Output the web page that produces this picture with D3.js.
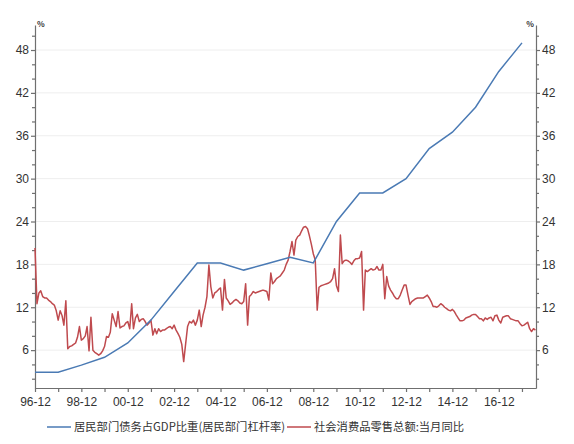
<!DOCTYPE html>
<html>
<head>
<meta charset="utf-8">
<script src="https://cdn.jsdelivr.net/npm/d3@7"></script>
<style>
  body { margin: 0; background: #fff; }
  svg { font-family: "Noto Sans CJK SC", "Noto Sans", sans-serif; }
  .grid line { stroke: #eeeeee; }
  .axis path, .axis line { stroke: #6f6f6f; stroke-width: 1.2; }
  .axis text { fill: #333; font-size: 12px; }
</style>
</head>
<body>
<svg id="chart" width="574" height="444"></svg>
<script>
// 居民部门杠杆率（年末）
const debtYears = [1996, 1997, 1998, 1999, 2000, 2001, 2002, 2003, 2004, 2005, 2006,
  2007, 2008, 2009, 2010, 2011, 2012, 2013, 2014, 2015, 2016, 2017];
const debtValues = [2.9, 2.9, 3.9, 5.0, 7.0, 10.2, 14.2, 18.2, 18.2, 17.2, 18.1,
  19.0, 18.2, 24.0, 28.0, 28.0, 30.0, 34.2, 36.5, 40.0, 45.0, 49.0];

// 社会消费品零售总额：当月同比，从 1996-12 起按月
const retailStart = new Date(1996, 11, 1);
const retailValues = [
  20.3, 12.5, 14.0, 14.3, 13.5, 13.3, 13.3, 13.0, 12.8, 12.5, 12.3, 11.5,
  10.2, 11.5, 10.8, 9.5, 12.9, 6.2, 6.5, 6.6, 6.8, 7.0, 7.8, 9.3,
  7.4, 7.6, 8.0, 9.3, 5.9, 10.6, 6.0, 5.7, 5.5, 5.3, 5.5, 5.9,
  6.5, 7.9, 7.8, 8.5, 11.1, 10.2, 9.3, 11.4, 9.1, 9.3, 9.4, 9.8,
  10.0, 9.0, 12.5, 9.0, 10.5, 11.0, 10.0, 10.3, 10.4, 10.0, 9.5, 9.8,
  10.2, 8.1, 9.0, 8.3, 9.0, 8.6, 8.8, 8.8, 9.0, 9.2, 9.3, 9.0,
  9.5, 8.8, 8.3, 7.8, 6.8, 4.4, 6.9, 9.3, 10.0, 9.8, 10.2, 9.5,
  10.2, 11.6, 9.3, 10.9, 12.0, 13.5, 17.9, 14.9, 13.3, 14.0, 14.2, 14.5,
  14.7, 11.6, 15.9, 13.3, 12.9, 12.4, 12.6, 12.9, 13.1, 12.9, 12.6, 12.5,
  12.8, 15.3, 9.5, 13.5, 13.8, 14.2, 14.0, 14.1, 14.2, 14.3, 14.4, 14.3,
  14.2, 13.0, 16.8, 15.3, 15.6, 16.0, 16.2, 16.4, 16.8, 17.2, 18.0, 18.6,
  19.8, 21.2, 19.3, 21.4, 21.9, 22.1, 22.7, 23.2, 23.3, 23.0, 22.0, 20.8,
  19.5, 18.6, 11.6, 14.8, 15.0, 15.1, 15.2, 15.3, 15.4, 15.6, 16.0, 17.4,
  15.0, 14.2, 22.1, 18.1, 18.5, 18.6, 18.5, 18.3, 18.0, 18.5, 18.8, 18.8,
  18.9, 19.8, 11.6, 17.2, 17.0, 17.2, 17.4, 17.2, 17.3, 17.7, 17.2, 17.2,
  18.0, 13.2, 16.3, 15.0, 14.4, 14.0, 13.5, 13.2, 13.2, 13.7, 14.4, 15.1,
  15.1, 13.7, 12.4, 12.8, 13.0, 13.2, 13.3, 13.3, 13.3, 13.3, 13.5, 13.7,
  13.3, 12.8, 12.1, 12.1, 12.0, 12.2, 12.5, 12.3, 12.0, 11.8, 11.6, 11.5,
  11.7, 11.4, 10.9, 10.5, 10.1, 10.1, 10.2, 10.5, 10.6, 10.7, 10.9, 11.0,
  11.0, 10.7, 10.4, 10.4, 10.1, 10.5, 10.3, 10.5, 10.6, 10.1, 10.8,
  10.9, 10.2, 9.8, 10.6, 10.7, 10.8, 10.8, 10.4, 10.3, 10.2, 10.1, 10.1,
  9.7, 9.4, 9.5, 9.7, 9.9, 9.0, 8.6, 9.0, 8.8
];

const yTicks = [6, 12, 18, 24, 30, 36, 42, 48];
const yMinorTicks = d3.range(2, 52, 2);
const xTickYears = d3.range(1996, 2018);

const legendLabels = ["居民部门债务占GDP比重(居民部门杠杆率)", "社会消费品零售总额:当月同比"];
const BLUE = "#4a7ab4";
const RED = "#bf4a4e";

const margin = { left: 35, right: 38, top: 25, bottom: 56 };
const W = 574, H = 444;
const svg = d3.select("#chart");

const x = d3.scaleTime()
  .domain([retailStart, new Date(2018, 6, 10)])
  .range([margin.left, W - margin.right]);
const y = d3.scaleLinear()
  .domain([0.7, 51.5])
  .range([H - margin.bottom, margin.top]);

// 网格线
svg.append("g").attr("class", "grid")
  .selectAll("line").data(yTicks).enter().append("line")
  .attr("x1", margin.left).attr("x2", W - margin.right)
  .attr("y1", d => y(d)).attr("y2", d => y(d));

// 次刻度
const yMinor = yMinorTicks.filter(d => d % 6 !== 0);
svg.append("g").attr("class", "axis")
  .attr("transform", `translate(${margin.left},0)`)
  .call(d3.axisLeft(y).tickValues(yMinor).tickSize(3).tickFormat(""))
  .call(g => g.select(".domain").remove());
svg.append("g").attr("class", "axis")
  .attr("transform", `translate(${W - margin.right},0)`)
  .call(d3.axisRight(y).tickValues(yMinor).tickSize(3).tickFormat(""))
  .call(g => g.select(".domain").remove());

// 左右轴
svg.append("g").attr("class", "axis")
  .attr("transform", `translate(${margin.left},0)`)
  .call(d3.axisLeft(y).tickValues(yTicks).tickSize(4).tickSizeOuter(0).tickPadding(2));
svg.append("g").attr("class", "axis")
  .attr("transform", `translate(${W - margin.right},0)`)
  .call(d3.axisRight(y).tickValues(yTicks).tickSize(4).tickSizeOuter(0).tickPadding(2));

// X 轴
const fmt = d3.timeFormat("%y-%m");
svg.append("g").attr("class", "axis")
  .attr("transform", `translate(0,${H - margin.bottom})`)
  .call(d3.axisBottom(x)
    .tickValues(xTickYears.map(yr => new Date(yr, 11, 1)))
    .tickSize(4).tickSizeOuter(0).tickPadding(5)
    .tickFormat(d => d.getFullYear() % 2 === 0 ? fmt(d) : ""));

// 单位
svg.append("text").attr("x", margin.left + 2).attr("y", margin.top + 2)
  .attr("font-size", 8).attr("font-weight", "bold").attr("fill", "#333").text("%");
svg.append("text").attr("x", W - margin.right - 2).attr("y", margin.top + 2)
  .attr("text-anchor", "end")
  .attr("font-size", 8).attr("font-weight", "bold").attr("fill", "#333").text("%");

// 折线
const retailData = retailValues.map((v, i) => ({ date: d3.timeMonth.offset(retailStart, i), v }));
const debtData = debtYears.map((yr, i) => ({ date: new Date(yr, 11, 1), v: debtValues[i] }));

const line = d3.line().x(d => x(d.date)).y(d => y(d.v));

svg.append("path").datum(retailData)
  .attr("fill", "none").attr("stroke", RED).attr("stroke-width", 1.5)
  .attr("stroke-linejoin", "round").attr("d", line);
svg.append("path").datum(debtData)
  .attr("fill", "none").attr("stroke", BLUE).attr("stroke-width", 1.5)
  .attr("d", line);

// 图例
const legendItems = [
  { label: legendLabels[0], color: BLUE, x: 47 },
  { label: legendLabels[1], color: RED, x: 287 }
];
const legY = 427;
legendItems.forEach(item => {
  svg.append("line")
    .attr("x1", item.x).attr("x2", item.x + 24)
    .attr("y1", legY).attr("y2", legY)
    .attr("stroke", item.color).attr("stroke-width", 1.5);
  svg.append("text")
    .attr("x", item.x + 27).attr("y", legY + 4)
    .attr("font-size", 11.3).attr("fill", "#333")
    .text(item.label);
});
</script>
</body>
</html>
